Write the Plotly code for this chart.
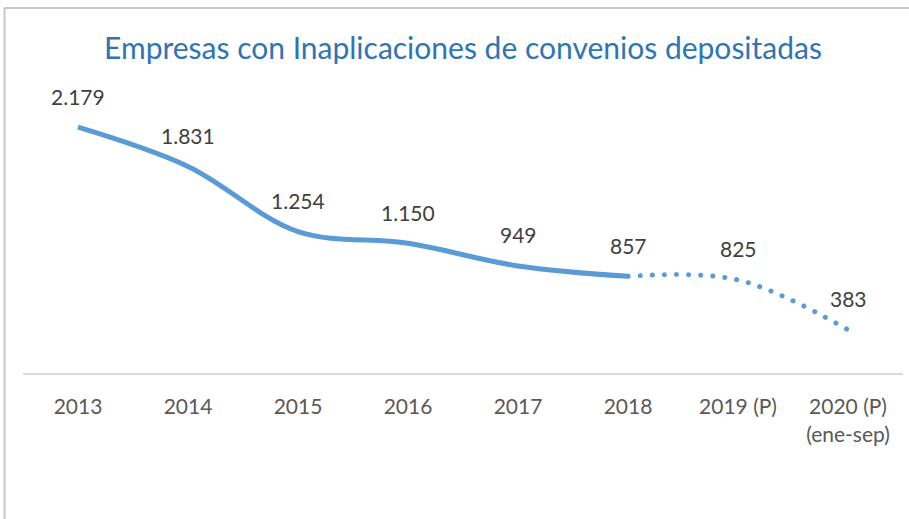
import plotly.graph_objects as go

years = ["2013", "2014", "2015", "2016", "2017", "2018", "2019 (P)", "2020 (P)<br>(ene-sep)"]
values = [2179, 1831, 1254, 1150, 949, 857, 825, 383]
value_labels = ["2.179", "1.831", "1.254", "1.150", "949", "857", "825", "383"]
split_at = 5  # last actual year (2018); projection dotted afterwards

LINE_COLOR = "#5B9BD5"
FONT = "Lato, Calibri, Noto Sans, sans-serif"

fig = go.Figure()
fig.add_trace(go.Scatter(
    x=years[:split_at + 1], y=values[:split_at + 1], mode="lines",
    line=dict(color=LINE_COLOR, width=5, shape="spline", smoothing=1),
    hoverinfo="skip", showlegend=False,
))
fig.add_trace(go.Scatter(
    x=years[split_at:], y=values[split_at:], mode="lines",
    line=dict(color=LINE_COLOR, width=5, shape="spline", smoothing=1, dash="5px,7px"),
    hoverinfo="skip", showlegend=False,
))

for i, (yv, lab) in enumerate(zip(values, value_labels)):
    fig.add_annotation(x=i, y=yv, text=lab, showarrow=False, yshift=31,
                       font=dict(family=FONT, size=21, color="#404040"))

# outer frame lines (top and left)
fig.add_shape(type="line", xref="paper", yref="paper", x0=-0.021, x1=1.02, y0=1.2943, y1=1.2943,
              line=dict(color="#C8C8C8", width=2))
fig.add_shape(type="line", xref="paper", yref="paper", x0=-0.021, x1=-0.021, y0=1.2943, y1=-0.52,
              line=dict(color="#C8C8C8", width=2))

fig.update_layout(
    width=909, height=519,
    margin=dict(l=23, r=6, t=91, b=146, autoexpand=False),
    paper_bgcolor="white", plot_bgcolor="white",
    title=dict(text="Empresas con Inaplicaciones de convenios depositadas",
               x=0.5, xref="paper", xanchor="center", y=0.907, yanchor="middle",
               font=dict(family=FONT, size=30, color="#2E75B6")),
    xaxis=dict(type="category", range=[-0.5, 7.5], showgrid=False, zeroline=False,
               showline=True, linecolor="#D9D9D9", linewidth=2, ticks="",
               ticklabelstandoff=14, automargin=False,
               tickfont=dict(family=FONT, size=21, color="#595959")),
    yaxis=dict(range=[0, 2500], showgrid=False, zeroline=False, showline=False,
               showticklabels=False, automargin=False),
)

post = """
document.body.style.margin = '0';
document.body.style.overflow = 'hidden';
var paths = document.querySelectorAll('.scatterlayer .trace');
if (paths.length > 1) {
  var p = paths[1].querySelector('.js-line');
  if (p) { p.style.strokeLinecap = 'round'; p.style.strokeDasharray = '0.1px,12px'; }
}
"""
fig.write_html("out.html", post_script=post, config={"displayModeBar": False})
